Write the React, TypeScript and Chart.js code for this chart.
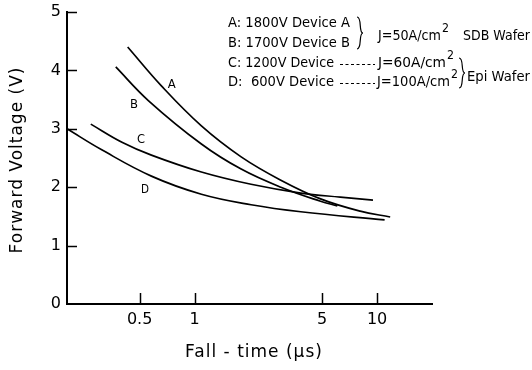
import React, { useEffect, useRef } from "react";
import { Chart, registerables } from "chart.js";

Chart.register(...registerables);

// ---- Data (fall-time in µs, forward voltage in V) ----
const timeA = [0.43, 0.66, 1.09, 1.8, 2.97, 4.9, 8.08, 11.8];
const voltA = [4.4, 3.73, 3.05, 2.52, 2.12, 1.8, 1.59, 1.49];

const timeB = [0.37, 0.56, 1.09, 1.8, 2.97, 4.9, 6.06];
const voltB = [4.06, 3.48, 2.74, 2.31, 2.0, 1.76, 1.68];

const timeC = [0.27, 0.4, 0.58, 1.09, 2.04, 3.82, 6.29, 9.5];
const voltC = [3.08, 2.77, 2.55, 2.26, 2.05, 1.9, 1.83, 1.78];

const timeD = [0.2, 0.31, 0.58, 1.09, 2.04, 3.82, 11];
const voltD = [3.0, 2.64, 2.19, 1.88, 1.7, 1.58, 1.44];

const curveNames = ["A", "B", "C", "D"];
const curveLabelTime = [0.75, 0.466, 0.509, 0.535];
const curveLabelVolt = [3.75, 3.42, 2.81, 1.95];

const xTickValues = [0.5, 1, 5, 10];
const xTickLabels = ["0.5", "1", "5", "10"];
const yTickValues = [0, 1, 2, 3, 4, 5];

const xTitle = "Fall - time (\u03bcs)";
const yTitle = "Forward Voltage (V)";

const legendDevices = ["A: 1800V Device A", "B: 1700V Device B", "C: 1200V Device", "D:  600V Device"];
const legendDensity = ["J=50A/cm", "J=60A/cm", "J=100A/cm"];
const legendWafer = ["SDB Wafer", "Epi Wafer"];

const FONT = '"DejaVu Sans", sans-serif';

function fitText(ctx: CanvasRenderingContext2D, text: string, x0: number, x1: number, y: number, size: number) {
  ctx.save();
  ctx.font = `${size}px ${FONT}`;
  ctx.textAlign = "left";
  ctx.textBaseline = "middle";
  const w = ctx.measureText(text).width;
  ctx.translate(x0, y);
  ctx.scale((x1 - x0) / w, 1);
  ctx.fillText(text, 0, 0);
  ctx.restore();
}

function brace(ctx: CanvasRenderingContext2D, x: number, top: number, bottom: number, w: number) {
  const mid = (top + bottom) / 2;
  ctx.beginPath();
  ctx.moveTo(x, top);
  ctx.bezierCurveTo(x + w * 0.9, top, x + w * 0.2, mid, x + w, mid);
  ctx.bezierCurveTo(x + w * 0.2, mid, x + w * 0.9, bottom, x, bottom);
  ctx.stroke();
}

function sup(ctx: CanvasRenderingContext2D, x: number, y: number) {
  fitText(ctx, "2", x, x + 7, y - 7, 13);
}

const overlay = {
  id: "overlay",
  afterDraw(chart: any) {
    const { ctx, chartArea } = chart;
    const xs = chart.scales.x;
    const ys = chart.scales.y;
    ctx.save();
    ctx.strokeStyle = "#000";
    ctx.fillStyle = "#000";
    ctx.lineWidth = 1.5;
    // inward tick marks
    yTickValues.forEach((v) => {
      if (v === 0) return;
      const py = Math.round(ys.getPixelForValue(v)) + 0.5;
      ctx.beginPath();
      ctx.moveTo(chartArea.left, py);
      ctx.lineTo(chartArea.left + 10, py);
      ctx.stroke();
    });
    xTickValues.forEach((v) => {
      const px = Math.round(xs.getPixelForValue(v)) + 0.5;
      ctx.beginPath();
      ctx.moveTo(px, chartArea.bottom);
      ctx.lineTo(px, chartArea.bottom - 11);
      ctx.stroke();
    });

    // curve labels
    curveNames.forEach((n, i) => {
      const px = xs.getPixelForValue(curveLabelTime[i]);
      const py = ys.getPixelForValue(curveLabelVolt[i]);
      fitText(ctx, n, px - 4, px + 4, py, 13);
    });

    // axis titles
    ctx.textAlign = "center";
    ctx.textBaseline = "middle";
    ctx.font = `17px ${FONT}`;
    (ctx as any).letterSpacing = "1px";
    ctx.fillText(xTitle, 254, 353);
    ctx.save();
    ctx.translate(18, 160);
    ctx.rotate(-Math.PI / 2);
    ctx.fillText(yTitle, 0, 0);
    ctx.restore();
    (ctx as any).letterSpacing = "0px";

    // legend block
    const rowY = [23, 43, 63, 82];
    fitText(ctx, legendDevices[0], 228, 350, rowY[0], 14);
    fitText(ctx, legendDevices[1], 228, 350, rowY[1], 14);
    fitText(ctx, legendDevices[2], 228, 334, rowY[2], 14);
    fitText(ctx, legendDevices[3], 228, 334, rowY[3], 14);
    // leader dashes
    ctx.lineWidth = 1;
    ctx.setLineDash([3, 2.5]);
    [rowY[2], rowY[3]].forEach((y) => {
      ctx.beginPath();
      ctx.moveTo(340, y + 1.5);
      ctx.lineTo(375, y + 1.5);
      ctx.stroke();
    });
    ctx.setLineDash([]);
    fitText(ctx, legendDensity[0], 378, 441, 36, 14);
    sup(ctx, 442, 36);
    fitText(ctx, legendDensity[1], 378, 446, rowY[2], 14);
    sup(ctx, 447, rowY[2]);
    fitText(ctx, legendDensity[2], 377, 450, rowY[3], 14);
    sup(ctx, 451, rowY[3]);
    ctx.lineWidth = 1.2;
    brace(ctx, 357, 17, 49, 6);
    brace(ctx, 459, 58, 88, 6);
    fitText(ctx, legendWafer[0], 463, 530, 36, 14);
    fitText(ctx, legendWafer[1], 467, 530, 77, 14);
    ctx.restore();
  },
};

export default function App() {
  const ref = useRef<HTMLCanvasElement>(null);
  useEffect(() => {
    const canvas = ref.current;
    if (!canvas) return;
    const mk = (t: number[], v: number[]) => t.map((x, i) => ({ x, y: v[i] }));
    const lineStyle = {
      borderColor: "#000",
      borderWidth: 1.7,
      pointRadius: 0,
      fill: false,
      tension: 0.4,
    };
    const chart = new Chart(canvas, {
      type: "line",
      data: {
        datasets: [
          { label: "A", data: mk(timeA, voltA), ...lineStyle },
          { label: "B", data: mk(timeB, voltB), ...lineStyle },
          { label: "C", data: mk(timeC, voltC), ...lineStyle },
          { label: "D", data: mk(timeD, voltD), ...lineStyle },
        ],
      },
      options: {
        responsive: false,
        animation: false,
        devicePixelRatio: 1,
        layout: { padding: { top: 12, right: 100, left: 0, bottom: 0 } },
        plugins: { legend: { display: false }, tooltip: { enabled: false } },
        scales: {
          x: {
            type: "logarithmic",
            min: 0.2,
            max: 20,
            afterBuildTicks: (s: any) => {
              s.ticks = xTickValues.map((v) => ({ value: v }));
            },
            afterFit: (s: any) => {
              s.height = 66;
              s.paddingLeft = 0;
              s.paddingRight = 0;
            },
            grid: { display: false, drawTicks: false },
            border: { display: true, color: "#000", width: 2 },
            ticks: {
              color: "#000",
              padding: 6,
              autoSkip: false,
              maxRotation: 0,
              font: { family: "DejaVu Sans", size: 16 },
              callback: (v: any) => {
                const i = xTickValues.indexOf(Number(v));
                return i >= 0 ? xTickLabels[i] : "";
              },
            },
          },
          y: {
            min: 0,
            max: 5,
            afterFit: (s: any) => {
              s.width = 67;
              s.paddingTop = 0;
              s.paddingBottom = 0;
            },
            afterBuildTicks: (s: any) => {
              s.ticks = yTickValues.map((v) => ({ value: v }));
            },
            grid: { display: false, drawTicks: false },
            border: { display: true, color: "#000", width: 2 },
            ticks: {
              color: "#000",
              padding: 6,
              font: { family: "DejaVu Sans", size: 16 },
              callback: (v: any) => String(v),
            },
          },
        },
      },
      plugins: [overlay],
    });
    return () => chart.destroy();
  }, []);
  return (
    <div style={{ position: "fixed", left: 0, top: 0, width: 532, height: 370, background: "#fff" }}>
      <canvas ref={ref} width={532} height={370} style={{ display: "block", width: 532, height: 370 }} />
    </div>
  );
}
